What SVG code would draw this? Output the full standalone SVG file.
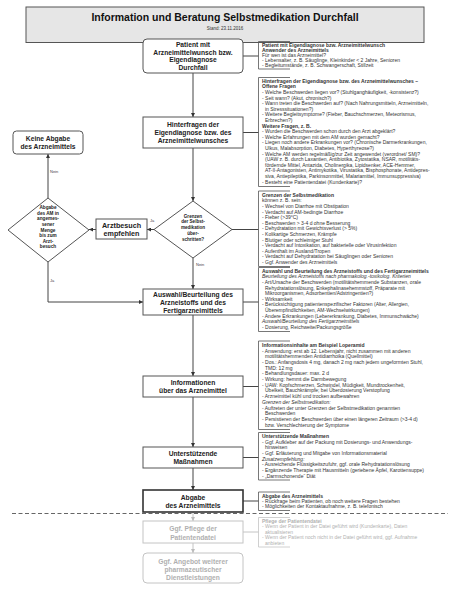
<svg xmlns="http://www.w3.org/2000/svg" width="450" height="600" viewBox="0 0 450 600">
<defs>
<marker id="ah" viewBox="0 0 6 6" refX="6" refY="3" markerWidth="4" markerHeight="4" orient="auto" markerUnits="userSpaceOnUse"><path d="M0,0 L6,3 L0,6 z" fill="#333"/></marker>
<marker id="ahg" viewBox="0 0 6 6" refX="6" refY="3" markerWidth="4" markerHeight="4" orient="auto" markerUnits="userSpaceOnUse"><path d="M0,0 L6,3 L0,6 z" fill="#bbb"/></marker>
<style>
text{font-family:"Liberation Sans",Arial,sans-serif}
.nb{fill:#fff;stroke:#555;stroke-width:1}
.nbg{fill:#fff;stroke:#c4c4c4;stroke-width:1}
.nt{font-size:6.7px;font-weight:bold;text-anchor:middle;fill:#222}
.ntg{font-size:6.7px;font-weight:bold;text-anchor:middle;fill:#b0b0b0}
.dt{font-size:4.6px;font-weight:bold;text-anchor:middle;fill:#222}
.lbl{font-size:4px;fill:#444}
.rt{font-size:5px;fill:#333}
.rtg{font-size:5px;fill:#b0b0b0}
.b{font-weight:bold}
.i{font-style:italic}
.con{stroke:#444;stroke-width:1;fill:none}
.cong{stroke:#c4c4c4;stroke-width:1;fill:none}
.br{stroke:#555;stroke-width:0.8;fill:none}
.brg{stroke:#c4c4c4;stroke-width:0.8;fill:none}
</style>
</defs>
<rect width="450" height="600" fill="#fff"/>

<g id="title">
<rect x="26" y="7" width="398" height="35.5" fill="#e6e6e6" stroke="#555" stroke-width="1"/>
<text x="225" y="20.5" font-size="10.5" font-weight="bold" text-anchor="middle" fill="#111">Information und Beratung Selbstmedikation Durchfall</text>
<text x="225" y="29.6" font-size="4.5" text-anchor="middle" fill="#333">Stand: 23.11.2016</text>
</g>

<g id="connectors">
<line class="con" x1="193" y1="73" x2="193" y2="117" marker-end="url(#ah)"/>
<line class="con" x1="193" y1="148" x2="193" y2="201" marker-end="url(#ah)"/>
<line class="con" x1="154" y1="229.5" x2="147" y2="229.5" marker-end="url(#ah)"/>
<line class="con" x1="96" y1="229.5" x2="89" y2="229.5" marker-end="url(#ah)"/>
<line class="con" x1="48" y1="198" x2="48" y2="154" marker-end="url(#ah)"/>
<polyline class="con" points="48,262 48,302 143,302" marker-end="url(#ah)"/>
<line class="con" x1="193" y1="258" x2="193" y2="289" marker-end="url(#ah)"/>
<line class="con" x1="193" y1="315" x2="193" y2="376" marker-end="url(#ah)"/>
<line class="con" x1="193" y1="397" x2="193" y2="447" marker-end="url(#ah)"/>
<line class="con" x1="193" y1="468" x2="193" y2="490" marker-end="url(#ah)"/>
<line class="cong" x1="193" y1="512" x2="193" y2="521" marker-end="url(#ahg)"/>
<line class="cong" x1="193" y1="543" x2="193" y2="553" marker-end="url(#ahg)"/>
<line class="con" x1="243" y1="56" x2="258.5" y2="56"/>
<line class="con" x1="243" y1="132.5" x2="258.5" y2="132.5"/>
<line class="con" x1="232" y1="229.5" x2="258.5" y2="229.5"/>
<line class="con" x1="243" y1="302" x2="258.5" y2="302"/>
<line class="con" x1="243" y1="386.5" x2="258.5" y2="386.5"/>
<line class="con" x1="243" y1="457.5" x2="258.5" y2="457.5"/>
<line class="con" x1="243" y1="501" x2="258.5" y2="501"/>
<line class="cong" x1="243" y1="532" x2="258.5" y2="532"/>
<line x1="12" y1="513.5" x2="448" y2="513.5" stroke="#555" stroke-width="0.9" stroke-dasharray="4 2.5"/>
<text class="lbl" x="150" y="222">Ja</text>
<text class="lbl" x="50" y="172.5">Nein</text>
<text class="lbl" x="50" y="281.5">Ja</text>
<text class="lbl" x="196" y="265.5">Nein</text>
</g>

<g id="n-patient">
<rect class="nb" x="143" y="39" width="100" height="34" rx="4"/>
<text class="nt"><tspan x="193" y="47">Patient mit</tspan><tspan x="193" y="54.5">Arzneimittelwunsch bzw.</tspan><tspan x="193" y="62">Eigendiagnose</tspan><tspan x="193" y="69.5">Durchfall</tspan></text>
</g>
<g id="n-hinterfragen">
<rect class="nb" x="143" y="117" width="100" height="31"/>
<text class="nt"><tspan x="193" y="127">Hinterfragen der</tspan><tspan x="193" y="135">Eigendiagnose bzw. des</tspan><tspan x="193" y="143">Arzneimittelwunsches</tspan></text>
</g>
<g id="n-keine">
<rect class="nb" x="13" y="131" width="70" height="23" rx="3.5"/>
<text class="nt"><tspan x="48" y="141">Keine Abgabe</tspan><tspan x="48" y="149">des Arzneimittels</tspan></text>
</g>
<g id="n-grenzen">
<polygon class="nb" points="193,201 232,229.5 193,258 154,229.5"/>
<text class="dt"><tspan x="193" y="217.6">Grenzen</tspan><tspan x="193" y="223.4">der Selbst-</tspan><tspan x="193" y="229.2">medikation</tspan><tspan x="193" y="235">über-</tspan><tspan x="193" y="240.8">schritten?</tspan></text>
</g>
<g id="n-arztbesuch">
<rect class="nb" x="96" y="219" width="51" height="20"/>
<text class="nt" style="font-size:7.2px"><tspan x="121.5" y="227.6">Arztbesuch</tspan><tspan x="121.5" y="236.4">empfehlen</tspan></text>
</g>
<g id="n-abgabe-am">
<polygon class="nb" points="48,198 89,230 48,262 8,230"/>
<text class="dt" style="font-size:4.7px"><tspan x="48" y="209.2">Abgabe</tspan><tspan x="48" y="214.8">des AM in</tspan><tspan x="48" y="220.4">angemes-</tspan><tspan x="48" y="226">sener</tspan><tspan x="48" y="231.6">Menge</tspan><tspan x="48" y="237.2">bis zum</tspan><tspan x="48" y="242.8">Arzt-</tspan><tspan x="48" y="248.4">besuch</tspan></text>
</g>
<g id="n-auswahl">
<rect class="nb" x="143" y="289" width="100" height="26"/>
<text class="nt"><tspan x="193" y="296.8">Auswahl/Beurteilung des</tspan><tspan x="193" y="304.6">Arzneistoffs und des</tspan><tspan x="193" y="312.6">Fertigarzneimittels</tspan></text>
</g>
<g id="n-informationen">
<rect class="nb" x="143" y="376" width="100" height="21"/>
<text class="nt"><tspan x="193" y="384.7">Informationen</tspan><tspan x="193" y="393">über das Arzneimittel</tspan></text>
</g>
<g id="n-unterstuetzende">
<rect class="nb" x="143" y="447" width="100" height="21"/>
<text class="nt"><tspan x="193" y="456.3">Unterstützende</tspan><tspan x="193" y="464">Maßnahmen</tspan></text>
</g>
<g id="n-abgabe">
<rect class="nb" x="143" y="490" width="100" height="22" style="stroke-width:1.6;stroke:#333"/>
<text class="nt"><tspan x="193" y="500">Abgabe</tspan><tspan x="193" y="508">des Arzneimittels</tspan></text>
</g>
<g id="n-pflege">
<rect class="nbg" x="143" y="521" width="100" height="22"/>
<text class="ntg"><tspan x="193" y="531.3">Ggf. Pflege der</tspan><tspan x="193" y="539.6">Patientendatei</tspan></text>
</g>
<g id="n-angebot">
<rect class="nbg" x="143" y="553" width="100" height="30" rx="4"/>
<text class="ntg"><tspan x="193" y="564">Ggf. Angebot weiterer</tspan><tspan x="193" y="572.3">pharmazeutischer</tspan><tspan x="193" y="580">Dienstleistungen</tspan></text>
</g>

<g id="info-patient">
<path class="br" d="M290,41.5 H258.5 V69 H290"/>
<text class="rt"><tspan x="262" y="46.5" class="b">Patient mit Eigendiagnose bzw. Arzneimittelwunsch</tspan><tspan x="262" y="51.5" class="b">Anwender des Arzneimittels</tspan><tspan x="262" y="56.5">Für wen ist das Arzneimittel?</tspan><tspan x="262" y="61.5">- Lebensalter, z. B. Säuglinge, Kleinkinder &lt; 2 Jahre, Senioren</tspan><tspan x="262" y="66.5">- Begleitumstände, z. B. Schwangerschaft, Stillzeit</tspan></text>
</g>
<g id="info-hinterfragen">
<path class="br" d="M290,77.5 H258.5 V186.5 H290"/>
<text class="rt"><tspan x="262" y="82.8" class="b">Hinterfragen der Eigendiagnose bzw. des Arzneimittelwunsches –</tspan><tspan x="262" dy="5.6" class="b">Offene Fragen</tspan><tspan x="262" dy="5.6">- Welche Beschwerden liegen vor? (Stuhlganghäufigkeit, -konsistenz?)</tspan><tspan x="262" dy="5.6">- Seit wann? (Akut, chronisch?)</tspan><tspan x="262" dy="5.6">- Wann treten die Beschwerden auf? (Nach Nahrungsmitteln, Arzneimitteln,</tspan><tspan x="265" dy="5.6">in Stresssituationen?)</tspan><tspan x="262" dy="5.6">- Weitere Begleitsymptome? (Fieber, Bauchschmerzen, Meteorismus,</tspan><tspan x="265" dy="5.6">Erbrechen?)</tspan><tspan x="262" dy="5.6" class="b">Weitere Fragen, z. B.</tspan><tspan x="262" dy="5.6">- Wurden die Beschwerden schon durch den Arzt abgeklärt?</tspan><tspan x="262" dy="5.6">- Welche Erfahrungen mit dem AM wurden gemacht?</tspan><tspan x="262" dy="5.6">- Liegen noch andere Erkrankungen vor? (Chronische Darmerkrankungen,</tspan><tspan x="265" dy="5.6">Ulkus, Malabsorption, Diabetes, Hyperthyreose?)</tspan><tspan x="262" dy="5.6">- Welche AM werden regelmäßig/zur Zeit angewendet (verordnet/ SM)?</tspan><tspan x="265" dy="5.6">(UAW z. B. durch Laxantien, Antibiotika, Zytostatika, NSAR, motilitäts-</tspan><tspan x="265" dy="5.6">fördernde Mittel, Antazida, Cholinergika, Lipidsenker, ACE-Hemmer,</tspan><tspan x="265" dy="5.6">AT-II-Antagonisten, Antimykotika, Virustatika, Bisphosphonate, Antidepres-</tspan><tspan x="265" dy="5.6">siva, Antiepileptika, Parkinsonmittel, Malariamittel, Immunsuppressiva)</tspan><tspan x="262" dy="5.6">- Besteht eine Patientendatei (Kundenkarte)?</tspan></text>
</g>
<g id="info-grenzen">
<path class="br" d="M290,191 H258.5 V266.5 H290"/>
<text class="rt"><tspan x="262" y="196.8" class="b">Grenzen der Selbstmedikation</tspan><tspan x="262" dy="5.6">können z. B. sein:</tspan><tspan x="262" dy="5.6">- Wechsel von Diarrhoe mit Obstipation</tspan><tspan x="262" dy="5.6">- Verdacht  auf AM-bedingte Diarrhoe</tspan><tspan x="262" dy="5.6">- Fieber (&gt;39°C)</tspan><tspan x="262" dy="5.6">- Beschwerden &gt; 3-4 d ohne Besserung</tspan><tspan x="262" dy="5.6">- Dehydratation mit Gewichtsverlust (&gt; 5%)</tspan><tspan x="262" dy="5.6">- Kolikartige Schmerzen, Krämpfe</tspan><tspan x="262" dy="5.6">- Blutiger oder schleimiger Stuhl</tspan><tspan x="262" dy="5.6">- Verdacht auf Intoxikation, auf bakterielle oder Virusinfektion</tspan><tspan x="262" dy="5.6">- Aufenthalt im Ausland/Tropen</tspan><tspan x="262" dy="5.6">- Verdacht auf Dehydratation bei Säuglingen oder Senioren</tspan><tspan x="262" dy="5.6">- Ggf. Anwender des Arzneimittels</tspan></text>
</g>
<g id="info-auswahl">
<path class="br" d="M290,267.5 H258.5 V331.5 H290"/>
<text class="rt"><tspan x="262" y="272.8" class="b">Auswahl und Beurteilung des Arzneistoffs und des Fertigarzneimittels</tspan><tspan x="262" dy="5.6" class="i">Beurteilung des Arzneistoffs nach pharmakolog.-toxikolog. Kriterien</tspan><tspan x="262" dy="5.6">- Art/Ursache der Beschwerden (motilitätshemmende Substanzen, orale</tspan><tspan x="265" dy="5.6">Rehydratationslösung, Enkephalinasehemmstoff, Präparate mit</tspan><tspan x="265" dy="5.6">Mikroorganismen, Adsorbentien/Adstringentien?)</tspan><tspan x="262" dy="5.6">- Wirksamkeit</tspan><tspan x="262" dy="5.6">- Berücksichtigung patientenspezifischer Faktoren (Alter, Allergien,</tspan><tspan x="265" dy="5.6">Überempfindlichkeiten, AM-Wechselwirkungen)</tspan><tspan x="262" dy="5.6">- Andere Erkrankungen (Lebererkrankung, Diabetes, Immunschwäche)</tspan><tspan x="262" dy="5.6" class="i">Auswahl/Beurteilung des Fertigarzneimittels</tspan><tspan x="262" dy="5.6">- Dosierung, Reichweite/Packungsgröße</tspan></text>
</g>
<g id="info-informationen">
<path class="br" d="M290,341 H258.5 V429.5 H290"/>
<text class="rt"><tspan x="262" y="346.8" class="b">Informationsinhalte am Beispiel Loperamid</tspan><tspan x="262" dy="5.7">- Anwendung: erst ab 12. Lebensjahr, nicht zusammen mit anderen</tspan><tspan x="265" dy="5.7">motilitätshemmenden Antidiarrhoika (Quellmittel)</tspan><tspan x="262" dy="5.7">- Dos.: Anfangsdosis 4 mg, danach 2 mg nach jedem ungeformten Stuhl,</tspan><tspan x="265" dy="5.7">TMD: 12 mg</tspan><tspan x="262" dy="5.7">- Behandlungsdauer: max. 2 d</tspan><tspan x="262" dy="5.7">- Wirkung: hemmt die Darmbewegung</tspan><tspan x="262" dy="5.7">- UAW: Kopfschmerzen, Schwindel, Müdigkeit, Mundtrockenheit,</tspan><tspan x="265" dy="5.7">Übelkeit, Bauchkrämpfe; bei Überdosierung Verstopfung</tspan><tspan x="262" dy="5.7">- Arzneimittel kühl und trocken aufbewahren</tspan><tspan x="262" dy="5.7" class="i">Grenzen der Selbstmedikation:</tspan><tspan x="262" dy="5.7">- Auftreten der unter Grenzen der Selbstmedikation genannten</tspan><tspan x="265" dy="5.7">Beschwerden</tspan><tspan x="262" dy="5.7">- Persistieren der Beschwerden über einen längeren Zeitraum (&gt;3-4 d)</tspan><tspan x="265" dy="5.7">bzw. Verschlechterung der Symptome</tspan></text>
</g>
<g id="info-unterstuetzende">
<path class="br" d="M290,432.5 H258.5 V480 H290"/>
<text class="rt"><tspan x="262" y="437.8" class="b">Unterstützende Maßnahmen</tspan><tspan x="262" dy="5.7">- Ggf. Aufkleber auf der Packung mit Dosierungs- und Anwendungs-</tspan><tspan x="265" dy="5.7">hinweisen</tspan><tspan x="262" dy="5.7">- Ggf. Erläuterung und Mitgabe von Informationsmaterial</tspan><tspan x="262" dy="5.7" class="i">Zusatzempfehlung:</tspan><tspan x="262" dy="5.7">- Ausreichende Flüssigkeitszufuhr, ggf. orale Rehydratationslösung</tspan><tspan x="262" dy="5.7">- Ergänzende Therapie mit Hausmitteln (geriebene Äpfel, Karottensuppe)</tspan><tspan x="262" dy="5.7">- „Darmschonende“ Diät</tspan></text>
</g>
<g id="info-abgabe">
<path class="br" d="M290,492 H258.5 V510.5 H290"/>
<text class="rt"><tspan x="262" y="497.5" class="b">Abgabe des Arzneimittels</tspan><tspan x="262" dy="5.3">- Rückfrage beim Patienten, ob noch weitere Fragen bestehen</tspan><tspan x="262" dy="5.3">- Möglichkeiten der Kontaktaufnahme, z. B. telefonisch</tspan></text>
</g>
<g id="info-pflege">
<path class="brg" d="M290,517.5 H258.5 V547 H290"/>
<text class="rtg"><tspan x="262" y="522.5" class="b">Pflege der Patientendatei</tspan><tspan x="262" dy="5.6">- Wenn der Patient in der Datei geführt wird (Kundenkarte), Daten</tspan><tspan x="265" dy="5.6">aktualisieren</tspan><tspan x="262" dy="5.6">- Wenn der Patient noch nicht in der Datei geführt wird, ggf. Aufnahme</tspan><tspan x="265" dy="5.6">anbieten</tspan></text>
</g>
</svg>
